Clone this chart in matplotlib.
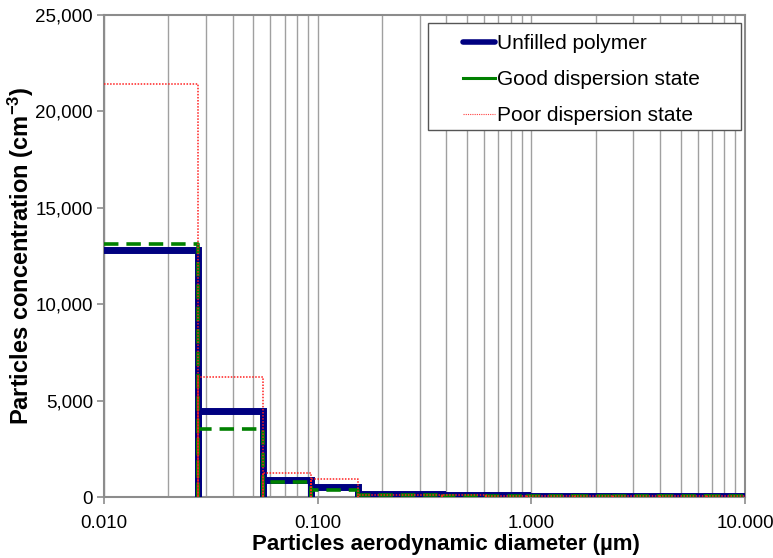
import matplotlib
matplotlib.use('Agg')
import matplotlib.pyplot as plt
from matplotlib.lines import Line2D
from matplotlib.patches import Rectangle
from matplotlib.ticker import FuncFormatter, LogLocator, NullFormatter

plt.rcParams['font.family'] = ['Liberation Sans', 'DejaVu Sans']
plt.rcParams['mathtext.default'] = 'regular'

# bin edges (um), ELPI-like stages
edges = [0.01, 0.0275, 0.0555, 0.093, 0.154, 0.384, 0.617, 0.953, 1.61, 2.4, 4.0, 6.67, 10.0]

# concentrations (cm-3) per bin
unfilled = [12800, 4470, 880, 535, 150, 110, 80, 70, 60, 55, 50, 50]
good     = [13100, 3550, 800, 360, 80, 60, 45, 40, 35, 35, 30, 30]
poor     = [21450, 6200, 1260, 935, 110, 100, 45, 40, 35, 35, 30, 30]

series = [
    ('Unfilled polymer', unfilled, '#000080', 5.0, '-', 3),
    ('Good dispersion state', good, '#008000', 2.6, (0, (4, 2.2)), 4),
    ('Poor dispersion state', poor, '#ff2020', 1.1, (0, (1, 1)), 5),
]


def bar_outline(vals):
    # histogram outline: each bar drawn as its own open box (no bottom)
    xs, ys = [], []
    for i, h in enumerate(vals):
        l, r = edges[i], edges[i + 1]
        if i == 0:
            xs += [l, r, r, None]
            ys += [h, h, 0, None]
        else:
            xs += [l, l, r, r, None]
            ys += [0, h, h, 0, None]
    xs = [float('nan') if v is None else v for v in xs]
    ys = [float('nan') if v is None else v for v in ys]
    return xs, ys


fig = plt.figure(figsize=(7.73, 5.58), dpi=100)
ax = fig.add_axes([0.1345, 0.1093, 0.8292, 0.8637])

for name, vals, col, lw, ls, z in series:
    xs, ys = bar_outline(vals)
    ax.plot(xs, ys, color=col, linewidth=lw, linestyle=ls, zorder=z,
            solid_joinstyle='miter', dash_capstyle='butt')

ax.set_xscale('log')
ax.set_xlim(0.01, 10)
ax.set_ylim(0, 25000)

ax.xaxis.set_major_locator(LogLocator(base=10, numticks=10))
ax.xaxis.set_minor_locator(LogLocator(base=10, subs=range(2, 10), numticks=40))
ax.xaxis.set_minor_formatter(NullFormatter())
ax.xaxis.set_major_formatter(FuncFormatter(lambda v, p: '%.3f' % v))
ax.yaxis.set_major_formatter(FuncFormatter(lambda v, p: '{:,.0f}'.format(v)))
ax.set_yticks(range(0, 25001, 5000))

ax.grid(True, which='both', axis='x', color='#a0a0a0', linewidth=1.0, zorder=0)
ax.set_axisbelow(True)

for s in ax.spines.values():
    s.set_color('#8c8c8c')
    s.set_linewidth(1.5)

ax.tick_params(axis='both', which='major', labelsize=13.5, length=5, color='#8c8c8c', width=1.2)
ax.tick_params(axis='x', which='major', pad=8)
ax.tick_params(axis='y', which='major', pad=3)
ax.tick_params(axis='x', which='minor', length=0)

ax.set_xlabel('Particles aerodynamic diameter (µm)', fontsize=16, fontweight='bold')
ax.set_ylabel('Particles concentration (cm$^{-3}$)', fontsize=17, fontweight='bold')
ax.xaxis.set_label_coords(0.534, -0.077)
ax.yaxis.set_label_coords(-0.106, 0.5)

handles = [Line2D([], [], color='#000080', linewidth=4, solid_capstyle='round'),
           Line2D([], [], color='#008000', linewidth=2.2),
           Line2D([], [], color='#ff4040', linewidth=0.8, linestyle=(0, (1, 1)))]
labels = [s[0] for s in series]
leg = fig.legend(handles, labels, loc='upper left', bbox_to_anchor=(463 / 773, 1 - 34 / 558),
                 fontsize=15, frameon=False, handlelength=1.55, handletextpad=0.1,
                 borderpad=0, borderaxespad=0, labelspacing=0.82)
# legend frame box
fig.patches.append(Rectangle((428 / 773, 1 - 130 / 558), 313 / 773, 107 / 558,
                             transform=fig.transFigure, fill=True, facecolor='white',
                             edgecolor='#555555', linewidth=1.0, zorder=2))
leg.set_zorder(3)

plt.savefig('out.png', dpi=100)
plt.close()
